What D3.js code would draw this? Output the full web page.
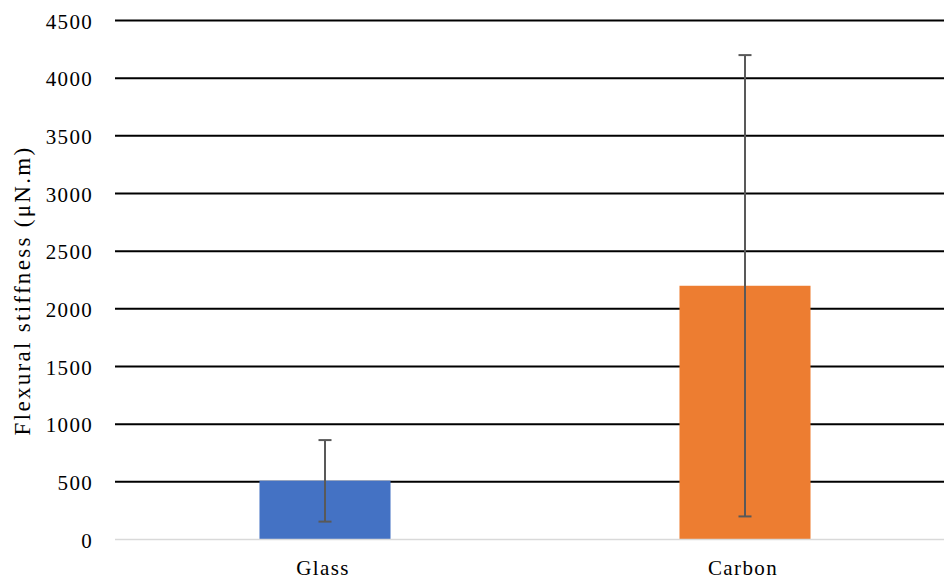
<!DOCTYPE html>
<html>
<head>
<meta charset="utf-8">
<script src="https://cdn.jsdelivr.net/npm/d3@7"></script>
<style>
  html, body { margin: 0; padding: 0; background: #fff; }
  svg { display: block; }
  svg text { font-family: "Liberation Serif", "Times New Roman", Tinos, "DejaVu Serif", serif !important; fill: #000; }
</style>
</head>
<body>
<svg id="chart" width="944" height="582"></svg>
<script>
// Mean flexural stiffness per fibre type, with error bar bounds
const categories = ["Glass", "Carbon"];
const values = [510, 2200];
const errLow = [155, 200];
const errHigh = [862, 4200];
const barColors = ["#4472C4", "#ED7D31"];
const yTicks = [0, 500, 1000, 1500, 2000, 2500, 3000, 3500, 4000, 4500];

(function () {
  const svg = d3.select("#chart");
  const W = 944;
  const mLeft = 115, mRight = 955, mTop = 20.5, mBottom = 539.5;

  const x = d3.scaleBand().domain(categories).range([mLeft, mRight]).paddingInner(0.688).paddingOuter(0.344);
  const y = d3.scaleLinear().domain([0, 4500]).range([mBottom, mTop]);

  // Horizontal gridlines
  svg.append("g")
    .selectAll("line")
    .data(yTicks.filter(d => d > 0))
    .join("line")
    .attr("x1", mLeft).attr("x2", W)
    .attr("y1", d => y(d)).attr("y2", d => y(d))
    .attr("stroke", "#000").attr("stroke-width", 2);

  // Y axis tick labels
  const yAxis = d3.axisLeft(y).tickValues(yTicks).tickSize(0).tickPadding(0).tickFormat(d3.format("d"));
  const gy = svg.append("g").attr("transform", `translate(${mLeft - 22},0)`).call(yAxis);
  gy.select(".domain").remove();
  gy.attr("font-family", null);
  gy.selectAll("text")
    .attr("font-size", 21).attr("letter-spacing", "1.3px").attr("fill", "#000").attr("dy", "0.36em");

  // Bars
  svg.append("g")
    .selectAll("rect")
    .data(categories)
    .join("rect")
    .attr("x", d => x(d))
    .attr("width", x.bandwidth())
    .attr("y", (d, i) => y(values[i]))
    .attr("height", (d, i) => y(0) - y(values[i]))
    .attr("fill", (d, i) => barColors[i]);

  // Baseline
  svg.append("line")
    .attr("x1", mLeft).attr("x2", W)
    .attr("y1", y(0)).attr("y2", y(0))
    .attr("stroke", "#d9d9d9").attr("stroke-width", 1.5);

  // Error bars
  const eg = svg.append("g").attr("stroke", "#595959").attr("stroke-width", 2);
  categories.forEach((c, i) => {
    const cx = x(c) + x.bandwidth() / 2;
    eg.append("line").attr("x1", cx).attr("x2", cx).attr("y1", y(errLow[i])).attr("y2", y(errHigh[i]));
    eg.append("line").attr("x1", cx - 6.5).attr("x2", cx + 6.5).attr("y1", y(errLow[i])).attr("y2", y(errLow[i]));
    eg.append("line").attr("x1", cx - 6.5).attr("x2", cx + 6.5).attr("y1", y(errHigh[i])).attr("y2", y(errHigh[i]));
  });

  // Category labels
  const xAxis = d3.axisBottom(x).tickSize(0).tickPadding(0);
  const gx = svg.append("g").attr("transform", `translate(-2,${mBottom + 21})`).call(xAxis);
  gx.select(".domain").remove();
  gx.attr("font-family", null);
  gx.selectAll("text")
    .attr("font-size", 21).attr("letter-spacing", "1.4px").attr("fill", "#000").attr("dy", "0.71em");

  // Y axis title
  svg.append("text")
    .attr("transform", `translate(30,${(148 + 433) / 2}) rotate(-90)`)
    .attr("text-anchor", "middle")
    .attr("font-size", 23)
    .attr("letter-spacing", "2.3px")
    .text("Flexural stiffness (μN.m)");
})();
</script>
</body>
</html>
